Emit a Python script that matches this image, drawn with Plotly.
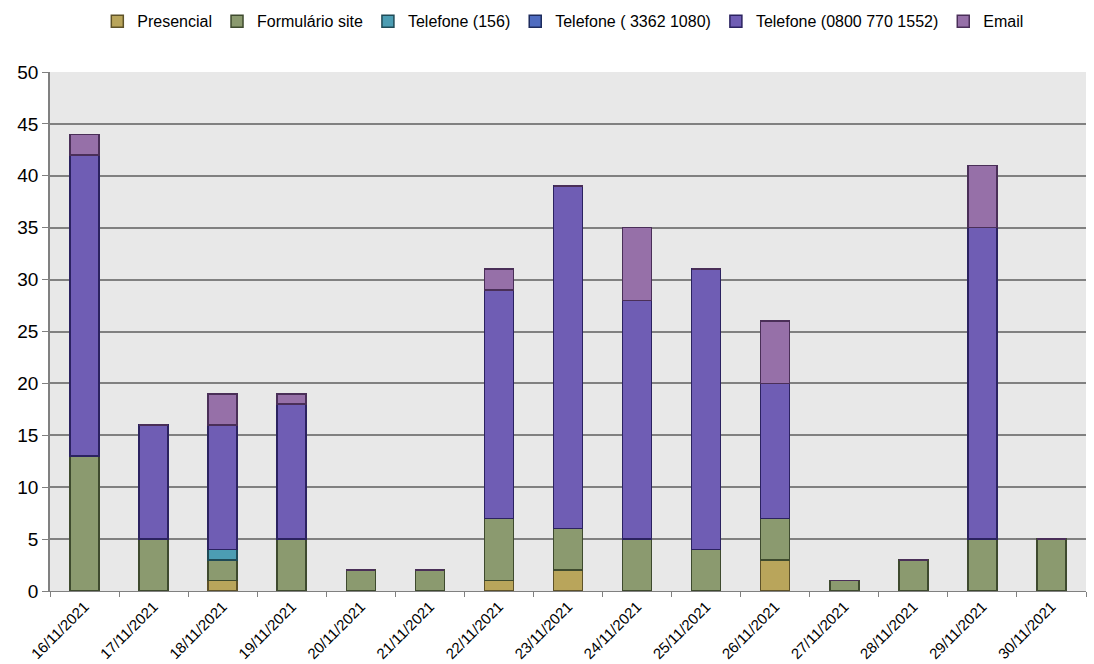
import plotly.graph_objects as go

datas = ["16/11/2021", "17/11/2021", "18/11/2021", "19/11/2021", "20/11/2021",
         "21/11/2021", "22/11/2021", "23/11/2021", "24/11/2021", "25/11/2021",
         "26/11/2021", "27/11/2021", "28/11/2021", "29/11/2021", "30/11/2021"]

presencial = [0, 0, 1, 0, 0, 0, 1, 2, 0, 0, 3, 0, 0, 0, 0]
formulario_site = [13, 5, 2, 5, 2, 2, 6, 4, 5, 4, 4, 1, 3, 5, 5]
telefone_156 = [0, 0, 1, 0, 0, 0, 0, 0, 0, 0, 0, 0, 0, 0, 0]
telefone_3362 = [0, 0, 0, 0, 0, 0, 0, 0, 0, 0, 0, 0, 0, 0, 0]
telefone_0800 = [29, 11, 12, 13, 0, 0, 22, 33, 23, 27, 13, 0, 0, 30, 0]
email = [2, 0, 3, 1, 0, 0, 2, 0, 7, 0, 6, 0, 0, 6, 0]

series = [
    ("Presencial", presencial, "#B9A55B", "#5E5228"),
    ("Formulário site", formulario_site, "#8B9A6F", "#3E4A2E"),
    ("Telefone (156)", telefone_156, "#4C9DB3", "#1F4A56"),
    ("Telefone ( 3362 1080)", telefone_3362, "#4F6CC0", "#1E2C5E"),
    ("Telefone (0800 770 1552)", telefone_0800, "#6F5DB4", "#2B2260"),
    ("Email", email, "#9670A8", "#4A2F58"),
]

fig = go.Figure()
for name, vals, fill, edge in series:
    fig.add_trace(go.Bar(
        x=datas, y=vals, name=name,
        marker=dict(color=fill, line=dict(color=edge, width=1.5)),
    ))

fig.update_layout(
    barmode="stack",
    bargap=0.58,
    width=1094, height=664,
    margin=dict(l=50, r=8, t=72, b=73, autoexpand=False),
    paper_bgcolor="white",
    plot_bgcolor="#E8E8E8",
    font=dict(family="Liberation Sans, Arial, sans-serif", color="black"),
    legend=dict(
        orientation="h", x=0.495, xanchor="center",
        yref="container", y=0.968, yanchor="middle",
        font=dict(size=16), itemwidth=30, tracegroupgap=0,
        traceorder="normal",
    ),
    showlegend=True,
)

fig.update_xaxes(
    type="category",
    tickangle=-45,
    tickfont=dict(size=15, color="black"),
    showline=True, linecolor="#808080", linewidth=1,
    ticks="outside", tickson="boundaries", ticklen=5, tickcolor="#808080",
    showgrid=False,
)
fig.update_yaxes(
    range=[0, 50], dtick=5,
    tickfont=dict(size=19, color="black"),
    showline=True, linecolor="#808080", linewidth=1.5,
    ticks="outside", ticklen=6, tickcolor="#808080",
    showgrid=True, gridcolor="#808080", gridwidth=1.5,
    zeroline=False,
)

fig.write_html("out.html")
